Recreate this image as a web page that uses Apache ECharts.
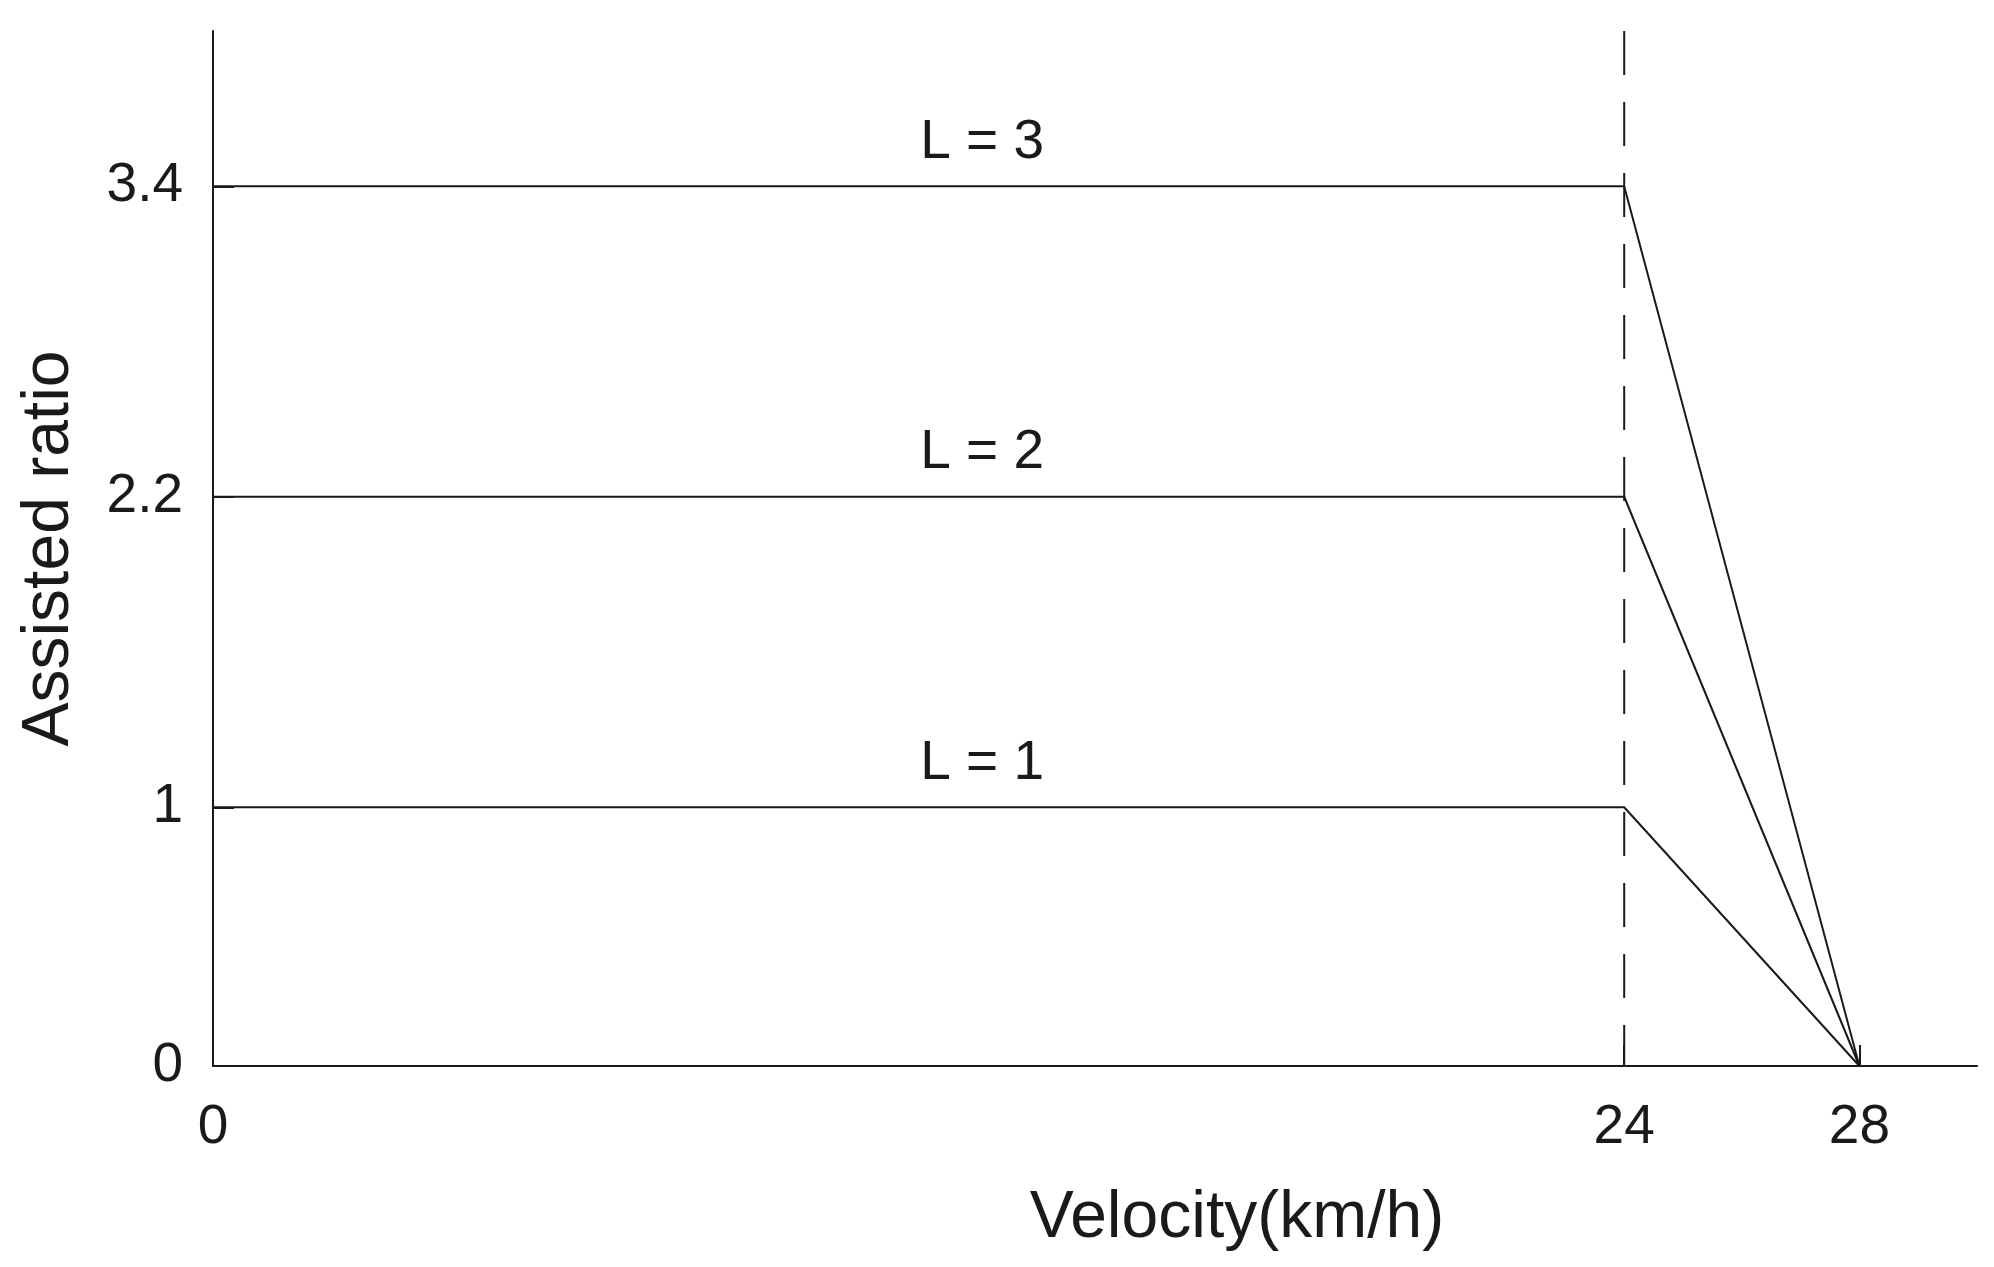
<!DOCTYPE html>
<html>
<head>
<meta charset="utf-8">
<script src="https://cdn.jsdelivr.net/npm/echarts@6/dist/echarts.min.js"></script>
<style>
html,body{margin:0;padding:0;background:#fff;}
#chart{width:1994px;height:1267px;}
</style>
</head>
<body>
<div id="chart"></div>
<script>
// ---- data ----
const velocity = [0, 24, 28];
const ratioL1 = [1, 1, 0];
const ratioL2 = [2.2, 2.2, 0];
const ratioL3 = [3.4, 3.4, 0];
const levelNames = ['L = 1', 'L = 2', 'L = 3'];
const levelRatios = [1, 2.2, 3.4];
const labelVelocity = 13.08;
const cutoffVelocity = 24;
const xTicks = [0, 24, 28];
const yTicks = [0, 1, 2.2, 3.4];
const xMax = 30;
const yMax = 4;

const ink = '#1a1a1a';
const font = '"Liberation Sans", Arial, sans-serif';

function pairs(xs, ys) { return xs.map((x, i) => [x, ys[i]]); }

const lineSeries = [ratioL1, ratioL2, ratioL3].map((ys, i) => ({
  name: levelNames[i],
  type: 'line',
  data: pairs(velocity, ys),
  symbol: 'none',
  lineStyle: { color: ink, width: 2 },
  silent: true,
  z: 3
}));

const chart = echarts.init(document.getElementById('chart'));
chart.setOption({
  animation: false,
  backgroundColor: '#fff',
  grid: { left: 213, right: 17, top: 31, bottom: 201, containLabel: false },
  xAxis: {
    type: 'value', min: 0, max: xMax,
    name: 'Velocity(km/h)', nameLocation: 'middle', nameGap: 120,
    nameTextStyle: { fontFamily: font, fontSize: 66, color: ink, padding: [0, 0, 0, 284] },
    axisLine: { show: true, onZero: false, lineStyle: { color: ink, width: 2 } },
    axisTick: { show: true, inside: true, length: 21, customValues: xTicks, lineStyle: { color: ink, width: 2 } },
    axisLabel: { show: true, customValues: xTicks, margin: 34, fontFamily: font, fontSize: 55, color: ink },
    splitLine: { show: false }
  },
  yAxis: {
    type: 'value', min: 0, max: yMax,
    name: 'Assisted ratio', nameLocation: 'middle', nameGap: 130,
    nameTextStyle: { fontFamily: font, fontSize: 66, color: ink },
    axisLine: { show: true, onZero: false, lineStyle: { color: ink, width: 2 } },
    axisTick: { show: true, inside: true, length: 21, customValues: yTicks, lineStyle: { color: ink, width: 2 } },
    axisLabel: { show: true, customValues: yTicks, margin: 30, fontFamily: font, fontSize: 55, color: ink },
    splitLine: { show: false }
  },
  series: lineSeries.concat([
    {
      name: 'cutoff',
      type: 'line',
      data: [[cutoffVelocity, yMax], [cutoffVelocity, 0]],
      symbol: 'none',
      lineStyle: { color: ink, width: 2, type: [44, 27] },
      silent: true,
      z: 2
    },
    {
      name: 'levels',
      type: 'scatter',
      data: levelRatios.map((r, i) => [labelVelocity, r, levelNames[i]]),
      symbolSize: 0,
      itemStyle: { opacity: 1 },
      label: {
        show: true, position: 'top', distance: 16,
        formatter: p => p.value[2],
        fontFamily: font, fontSize: 55, color: ink, opacity: 1
      },
      silent: true,
      z: 4
    }
  ])
});
</script>
</body>
</html>
